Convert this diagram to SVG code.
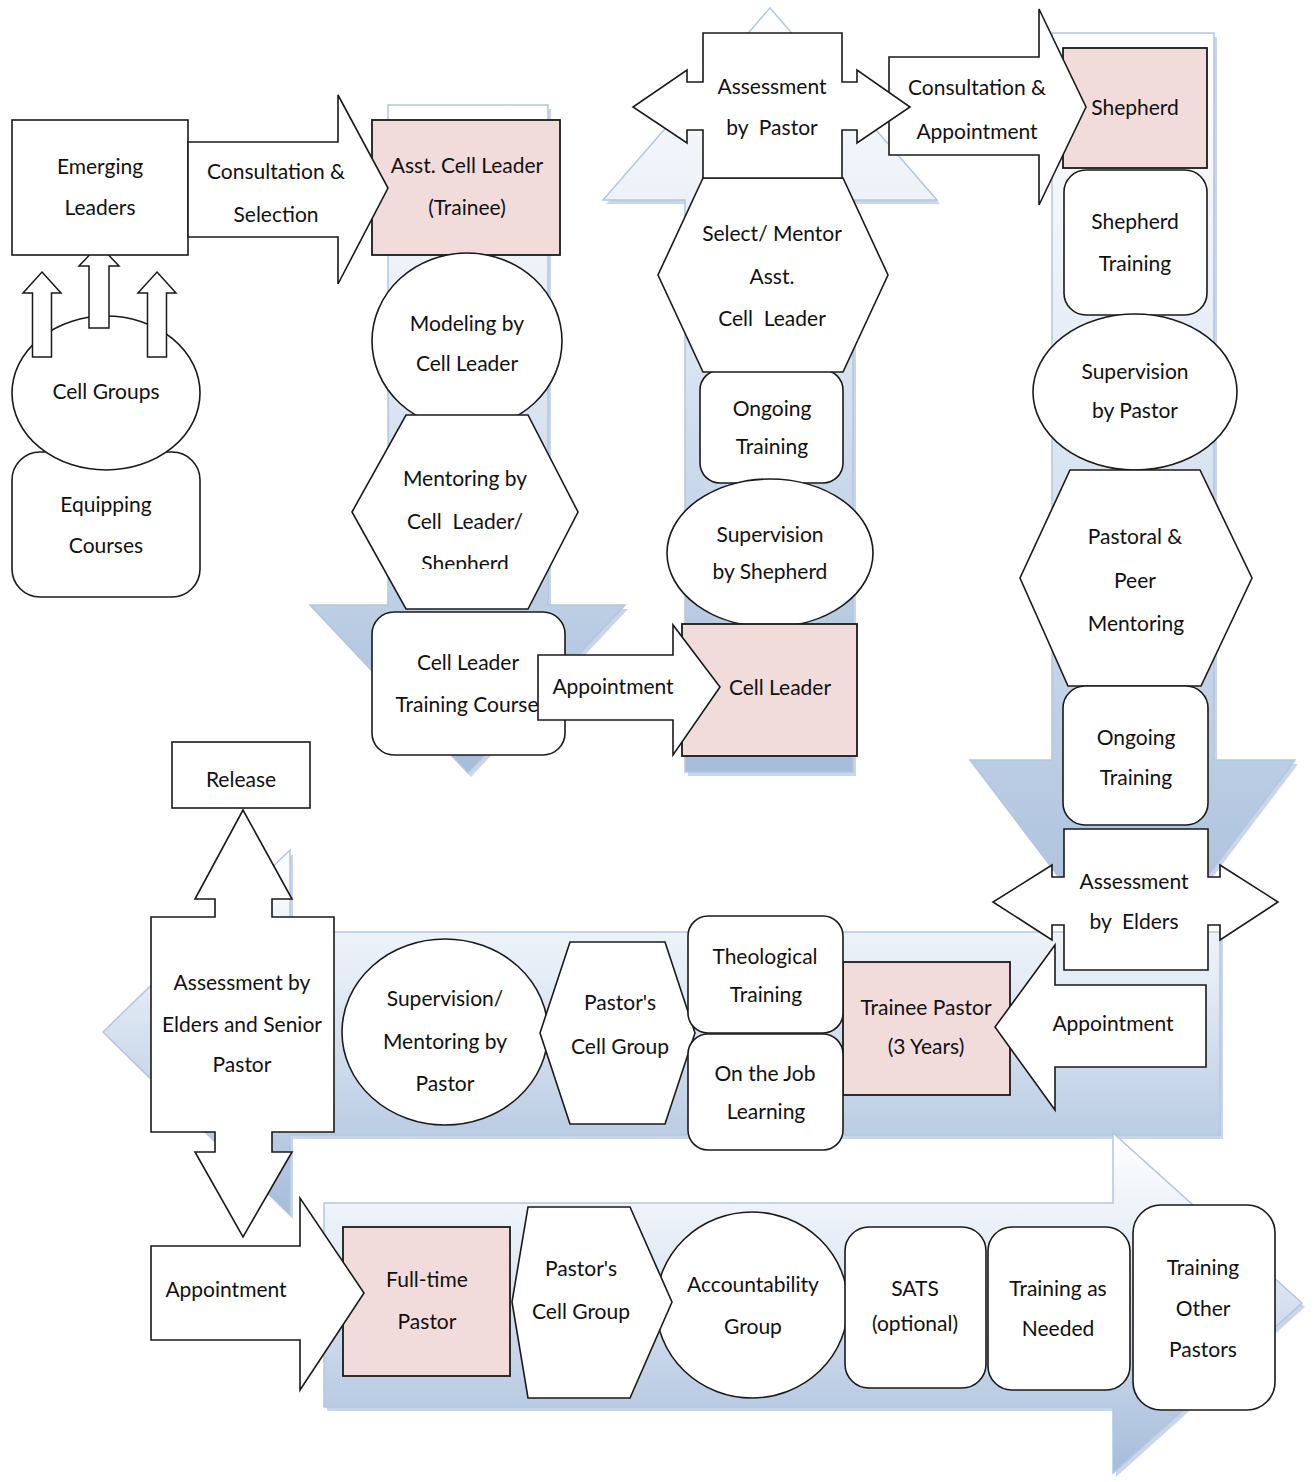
<svg xmlns="http://www.w3.org/2000/svg" width="1313" height="1482" viewBox="0 0 1313 1482">
<defs>
<linearGradient id="gv" x1="0" y1="0" x2="0" y2="1">
<stop offset="0" stop-color="#ffffff"/>
<stop offset="0.35" stop-color="#e4ecf6"/>
<stop offset="1" stop-color="#a5bcda"/>
</linearGradient>
<clipPath id="clipShep"><rect x="340" y="400" width="250" height="169"/></clipPath>
</defs>
<style>
.bg{fill:url(#gv);stroke:#b3c6e0;stroke-width:1.5}
.shadow{fill:#9fb5d4;opacity:0.55}
.n{fill:#ffffff;stroke:#1a1a1a;stroke-width:1.6}
.p{fill:#f2dcdb;stroke:#1a1a1a;stroke-width:1.8}
.c{fill:#ffffff;stroke:#1a1a1a;stroke-width:1.5}
text{font-family:Lato,"Liberation Sans",sans-serif;font-size:21px;fill:#111;text-anchor:middle;dominant-baseline:central}
</style>
<rect width="1313" height="1482" fill="#ffffff"/>

<g id="background-arrows">
<polygon class="shadow" points="391,109 551,109 551,609 628,609 471,777 313,609 391,609"/>
<polygon class="bg" points="388,105 548,105 548,605 625,605 468,773 310,605 388,605"/>
<polygon class="shadow" points="773,12 940,204 856,204 856,776 688,776 688,204 606,204"/>
<polygon class="bg" points="770,8 937,200 853,200 853,772 685,772 685,200 603,200"/>
<polygon class="shadow" points="1055,37 1217,37 1217,764 1298,764 1136,979 973,764 1055,764"/>
<polygon class="bg" points="1052,33 1214,33 1214,760 1295,760 1133,975 970,760 1052,760"/>
<polygon class="shadow" points="106,1036 293,854 293,936 1223,936 1223,1139 293,1139 293,1219"/>
<polygon class="bg" points="103,1032 290,850 290,932 1220,932 1220,1135 290,1135 290,1215"/>
<polygon class="shadow" points="327,1207 1116,1207 1116,1137 1305,1307 1116,1477 1116,1411 327,1411"/>
<polygon class="bg" points="324,1203 1113,1203 1113,1133 1302,1303 1113,1473 1113,1407 324,1407"/>
</g>

<g id="equipping-courses">
<rect class="n" x="12" y="452" width="188" height="145" rx="28"/>
<text x="106" y="503">Equipping</text>
<text x="106" y="544">Courses</text>
</g>

<g id="cell-groups">
<ellipse class="n" cx="106" cy="393" rx="94" ry="77"/>
<text x="106" y="390">Cell Groups</text>
</g>

<g id="connectors">
<polygon class="c" points="42,272 61,293 51.5,293 51.5,357 32.5,357 32.5,293 23,293"/>
<polygon class="c" points="99,245 119,266 109,266 109,328 89,328 89,266 79,266"/>
<polygon class="c" points="157,272 176,293 166.5,293 166.5,357 147.5,357 147.5,293 138,293"/>
</g>

<g id="emerging-leaders">
<rect class="n" x="12" y="120" width="176" height="135"/>
<text x="100" y="165">Emerging</text>
<text x="100" y="206">Leaders</text>
</g>

<g id="asst-cell-leader">
<rect class="p" x="372" y="120" width="188" height="135"/>
<text x="467" y="164">Asst. Cell Leader</text>
<text x="467" y="206">(Trainee)</text>
</g>

<g id="consultation-selection">
<polygon class="n" points="188,142 338,142 338,95 388,188 338,284 338,237 188,237"/>
<text x="276" y="170">Consultation &amp;</text>
<text x="276" y="213">Selection</text>
</g>

<g id="modeling">
<ellipse class="n" cx="467" cy="341" rx="95" ry="88"/>
<text x="467" y="322">Modeling by</text>
<text x="467" y="362">Cell Leader</text>
</g>

<g id="mentoring">
<polygon class="n" points="352,512 406,415 528,415 578,512 528,609 406,609"/>
<text x="465" y="477">Mentoring by</text>
<text x="465" y="520" xml:space="preserve">Cell  Leader/</text>
<text x="465" y="562" clip-path="url(#clipShep)">Shepherd</text>
</g>

<g id="cell-leader-training-course">
<rect class="n" x="372" y="612" width="193" height="143" rx="22"/>
<text x="468" y="661">Cell Leader</text>
<text x="467" y="703">Training Course</text>
</g>

<g id="ongoing-training-1">
<rect class="n" x="700" y="370" width="143" height="113" rx="20"/>
<text x="772" y="407">Ongoing</text>
<text x="772" y="445">Training</text>
</g>

<g id="supervision-by-shepherd">
<ellipse class="n" cx="770" cy="553" rx="103" ry="74"/>
<text x="770" y="533">Supervision</text>
<text x="770" y="570">by Shepherd</text>
</g>

<g id="cell-leader">
<rect class="p" x="682" y="624" width="175" height="132"/>
<text x="780" y="686">Cell Leader</text>
</g>

<g id="appointment-1">
<polygon class="n" points="538,655 673,655 673,625 720,687 673,755 673,720 538,720"/>
<text x="613" y="685">Appointment</text>
</g>

<g id="select-mentor">
<polygon class="n" points="703,178 843,178 888,275 843,372 703,372 658,275"/>
<text x="772" y="232">Select/ Mentor</text>
<text x="772" y="275">Asst.</text>
<text x="772" y="317" xml:space="preserve">Cell  Leader</text>
</g>

<g id="shepherd">
<rect class="p" x="1063" y="48" width="144" height="120"/>
<text x="1135" y="106">Shepherd</text>
</g>

<g id="consultation-appointment">
<polygon class="n" points="889,57 1039,57 1039,9 1086,107 1039,205 1039,155 889,155"/>
<text x="977" y="86">Consultation &amp;</text>
<text x="977" y="130">Appointment</text>
</g>

<g id="assessment-by-pastor">
<path class="n" d="M703,33 H842 V82 H857 V70 L910,107 L857,143 V130 H842 V178 H703 V130 H687 V143 L633,107 L687,70 V82 H703 Z"/>
<text x="772" y="85">Assessment</text>
<text x="772" y="126" xml:space="preserve">by  Pastor</text>
</g>

<g id="shepherd-training">
<rect class="n" x="1064" y="170" width="143" height="145" rx="22"/>
<text x="1135" y="220">Shepherd</text>
<text x="1135" y="262">Training</text>
</g>

<g id="supervision-by-pastor">
<ellipse class="n" cx="1135" cy="392" rx="102" ry="78"/>
<text x="1135" y="370">Supervision</text>
<text x="1135" y="409">by Pastor</text>
</g>

<g id="pastoral-peer-mentoring">
<polygon class="n" points="1070,470 1200,470 1252,578 1201,686 1068,686 1020,578"/>
<text x="1135" y="535">Pastoral &amp;</text>
<text x="1135" y="579">Peer</text>
<text x="1136" y="622">Mentoring</text>
</g>

<g id="ongoing-training-2">
<rect class="n" x="1063" y="686" width="145" height="139" rx="22"/>
<text x="1136" y="736">Ongoing</text>
<text x="1136" y="776">Training</text>
</g>

<g id="assessment-by-elders">
<path class="n" d="M1064,829 H1208 V877 H1220 V865 L1278,902 L1220,940 V925 H1208 V970 H1064 V925 H1052 V940 L993,902 L1052,865 V877 H1064 Z"/>
<text x="1134" y="880">Assessment</text>
<text x="1134" y="920" xml:space="preserve">by  Elders</text>
</g>

<g id="trainee-pastor">
<rect class="p" x="843" y="962" width="167" height="133"/>
<text x="926" y="1006">Trainee Pastor</text>
<text x="926" y="1045">(3 Years)</text>
</g>

<g id="appointment-2">
<polygon class="n" points="1206,985 1055,985 1055,945 995,1027 1055,1110 1055,1067 1206,1067"/>
<text x="1113" y="1022">Appointment</text>
</g>

<g id="supervision-mentoring">
<ellipse class="n" cx="445" cy="1032" rx="103" ry="93"/>
<text x="445" y="997">Supervision/</text>
<text x="445" y="1040">Mentoring by</text>
<text x="445" y="1082">Pastor</text>
</g>

<g id="pastors-cell-group-1">
<polygon class="n" points="570,942 665,942 695,1033 665,1124 570,1124 540,1033"/>
<text x="620" y="1001">Pastor's</text>
<text x="620" y="1045">Cell Group</text>
</g>

<g id="theological-training">
<rect class="n" x="688" y="916" width="155" height="117" rx="20"/>
<text x="765" y="955">Theological</text>
<text x="766" y="993">Training</text>
</g>

<g id="on-the-job-learning">
<rect class="n" x="688" y="1034" width="155" height="116" rx="20"/>
<text x="765" y="1072">On the Job</text>
<text x="766" y="1110">Learning</text>
</g>

<g id="assessment-elders-senior-pastor">
<path class="n" d="M151,917 H215 V899 H195 L243,810 L292,899 H272 V917 H334 V1132 H272 V1152 H292 L243,1237 L195,1152 H215 V1132 H151 Z"/>
<text x="242" y="981">Assessment by</text>
<text x="242" y="1023">Elders and Senior</text>
<text x="242" y="1063">Pastor</text>
</g>

<g id="release">
<rect class="n" x="172" y="742" width="138" height="66"/>
<text x="241" y="778">Release</text>
</g>

<g id="full-time-pastor">
<rect class="p" x="343" y="1227" width="167" height="149"/>
<text x="427" y="1278">Full-time</text>
<text x="427" y="1320">Pastor</text>
</g>

<g id="appointment-3">
<polygon class="n" points="151,1246 300,1246 300,1198 364,1293 300,1390 300,1340 151,1340"/>
<text x="226" y="1288">Appointment</text>
</g>

<g id="accountability-group">
<ellipse class="n" cx="752" cy="1305" rx="96" ry="93"/>
<text x="753" y="1283">Accountability</text>
<text x="753" y="1325">Group</text>
</g>

<g id="pastors-cell-group-2">
<polygon class="n" points="528,1207 630,1207 672,1302 630,1398 528,1398 512,1302"/>
<text x="581" y="1267">Pastor's</text>
<text x="581" y="1310">Cell Group</text>
</g>

<g id="sats">
<rect class="n" x="845" y="1227" width="141" height="161" rx="24"/>
<text x="915" y="1287">SATS</text>
<text x="915" y="1322">(optional)</text>
</g>

<g id="training-as-needed">
<rect class="n" x="988" y="1227" width="142" height="163" rx="24"/>
<text x="1058" y="1287">Training as</text>
<text x="1058" y="1327">Needed</text>
</g>

<g id="training-other-pastors">
<rect class="n" x="1133" y="1205" width="142" height="205" rx="28"/>
<text x="1203" y="1266">Training</text>
<text x="1203" y="1307">Other</text>
<text x="1203" y="1348">Pastors</text>
</g>
</svg>
